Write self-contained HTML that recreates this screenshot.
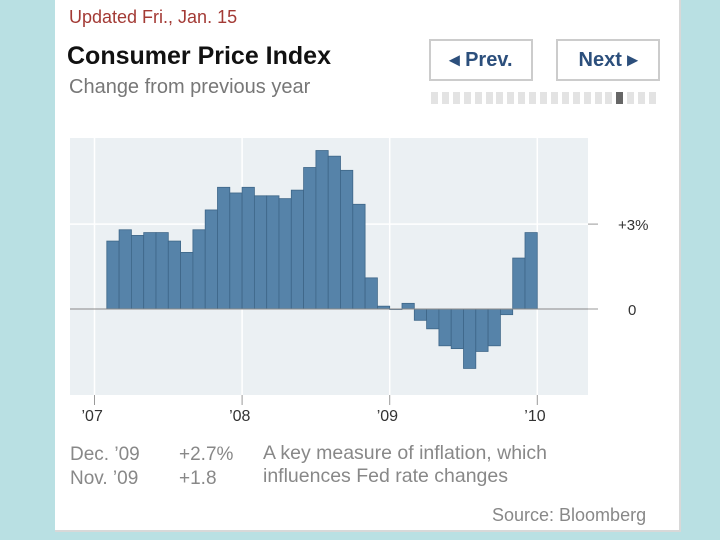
<!DOCTYPE html>
<html><head><meta charset="utf-8"><style>
body{margin:0;width:720px;height:540px;background:#b9e0e3;position:relative;overflow:hidden;font-family:"Liberation Sans",sans-serif}
#panel{position:absolute;left:55px;top:0;width:624px;height:530px;background:#fff;border-right:2px solid #d8d8d8;border-bottom:2px solid #d8d8d8}
.t{position:absolute;white-space:nowrap}
.btn{position:absolute;border:2px solid #ccc;background:#fff;color:#2c4f7c;font-weight:bold;font-size:20px;text-align:center;line-height:38px;height:38px}
</style></head><body>
<div id="panel"></div>
<div class="t" style="left:69px;top:7px;font-size:18px;color:#a33a35">Updated Fri., Jan. 15</div>
<div class="t" style="left:67px;top:42px;font-size:25px;font-weight:bold;color:#111">Consumer Price Index</div>
<div class="t" style="left:69px;top:76px;font-size:20px;color:#777">Change from previous year</div>
<div class="btn" style="left:429px;top:39px;width:100px">◂ Prev.</div>
<div class="btn" style="left:556px;top:39px;width:100px">Next ▸</div>
<div id="dots" style="position:absolute;left:431px;top:92px"></div>
<svg id="chart" width="720" height="540" style="position:absolute;left:0;top:0"></svg>
<div class="t" style="left:70px;top:443px;font-size:19px;color:#888;line-height:24px">Dec. ’09<br>Nov. ’09</div>
<div class="t" style="left:179px;top:443px;font-size:19px;color:#888;line-height:24px">+2.7%<br>+1.8</div>
<div class="t" style="left:263px;top:442px;font-size:19.5px;color:#888;line-height:23px">A key measure of inflation, which<br>influences Fed rate changes</div>
<div class="t" style="left:492px;top:505px;font-size:18px;color:#888">Source: Bloomberg</div>
<script>
const months=["Feb07","Mar07","Apr07","May07","Jun07","Jul07","Aug07","Sep07","Oct07","Nov07","Dec07","Jan08","Feb08","Mar08","Apr08","May08","Jun08","Jul08","Aug08","Sep08","Oct08","Nov08","Dec08","Jan09","Feb09","Mar09","Apr09","May09","Jun09","Jul09","Aug09","Sep09","Oct09","Nov09","Dec09"];
const values=[2.4,2.8,2.6,2.7,2.7,2.4,2.0,2.8,3.5,4.3,4.1,4.3,4.0,4.0,3.9,4.2,5.0,5.6,5.4,4.9,3.7,1.1,0.1,0.0,0.2,-0.4,-0.7,-1.3,-1.4,-2.1,-1.5,-1.3,-0.2,1.8,2.7];
const yearLabels=["’07","’08","’09","’10"];
const yTicks=[0,3];
const yTickLabels=["0","+3%"];
const NS="http://www.w3.org/2000/svg",svg=document.getElementById('chart');
const X0=94.5,MW=12.3;
const x=m=>X0+m*MW;
const y=v=>309-v*28.3;
function mk(t,a){const e=document.createElementNS(NS,t);for(const k in a)e.setAttribute(k,a[k]);svg.appendChild(e);return e;}
let e=mk('rect',{x:70,y:138,width:518,height:257,fill:'#ebf0f3'});

yearLabels.forEach((l,i)=>{
 const g=mk('line',{x1:x(i*12),x2:x(i*12),y1:138,y2:407,stroke:'#fff','stroke-width':1.5});
 
 const tk=mk('line',{x1:x(i*12),x2:x(i*12),y1:395,y2:405,stroke:'#999','stroke-width':1});
 
 const t=mk('text',{x:x(i*12)-13,y:421,'font-size':16,fill:'#333','font-family':'Liberation Sans'});
 t.textContent=l;
});
yTicks.forEach((v,i)=>{
 if(v!==0){const g=mk('line',{x1:70,x2:588,y1:y(v),y2:y(v),stroke:'#fff','stroke-width':1.5});
 }
 const tk=mk('line',{x1:588,x2:598,y1:y(v),y2:y(v),stroke:'#999'});
 
 const t=mk('text',{x:v===0?628:618,y:y(v)+6,'font-size':15,fill:'#333','font-family':'Liberation Sans'});
 t.textContent=yTickLabels[i];
});
values.forEach((v,i)=>{
 const m=i+1,top=Math.min(y(v),y(0)),h=Math.max(Math.abs(y(v)-y(0)),0.5);
 const b=mk('rect',{x:x(m),y:top,width:MW,height:h,fill:'#5683a9',stroke:'#3e6688','stroke-width':0.8});
 
});
const z=mk('line',{x1:70,x2:588,y1:y(0),y2:y(0),stroke:'#888','stroke-width':1});

const dots=document.getElementById('dots');
for(let i=0;i<21;i++){const d=document.createElement('div');
 d.style.cssText='position:absolute;top:0;width:7px;height:12px;left:'+(i*10.9)+'px;background:'+(i===17?'#666':'#e3e3e3');
 dots.appendChild(d);}
</script>
</body></html>
